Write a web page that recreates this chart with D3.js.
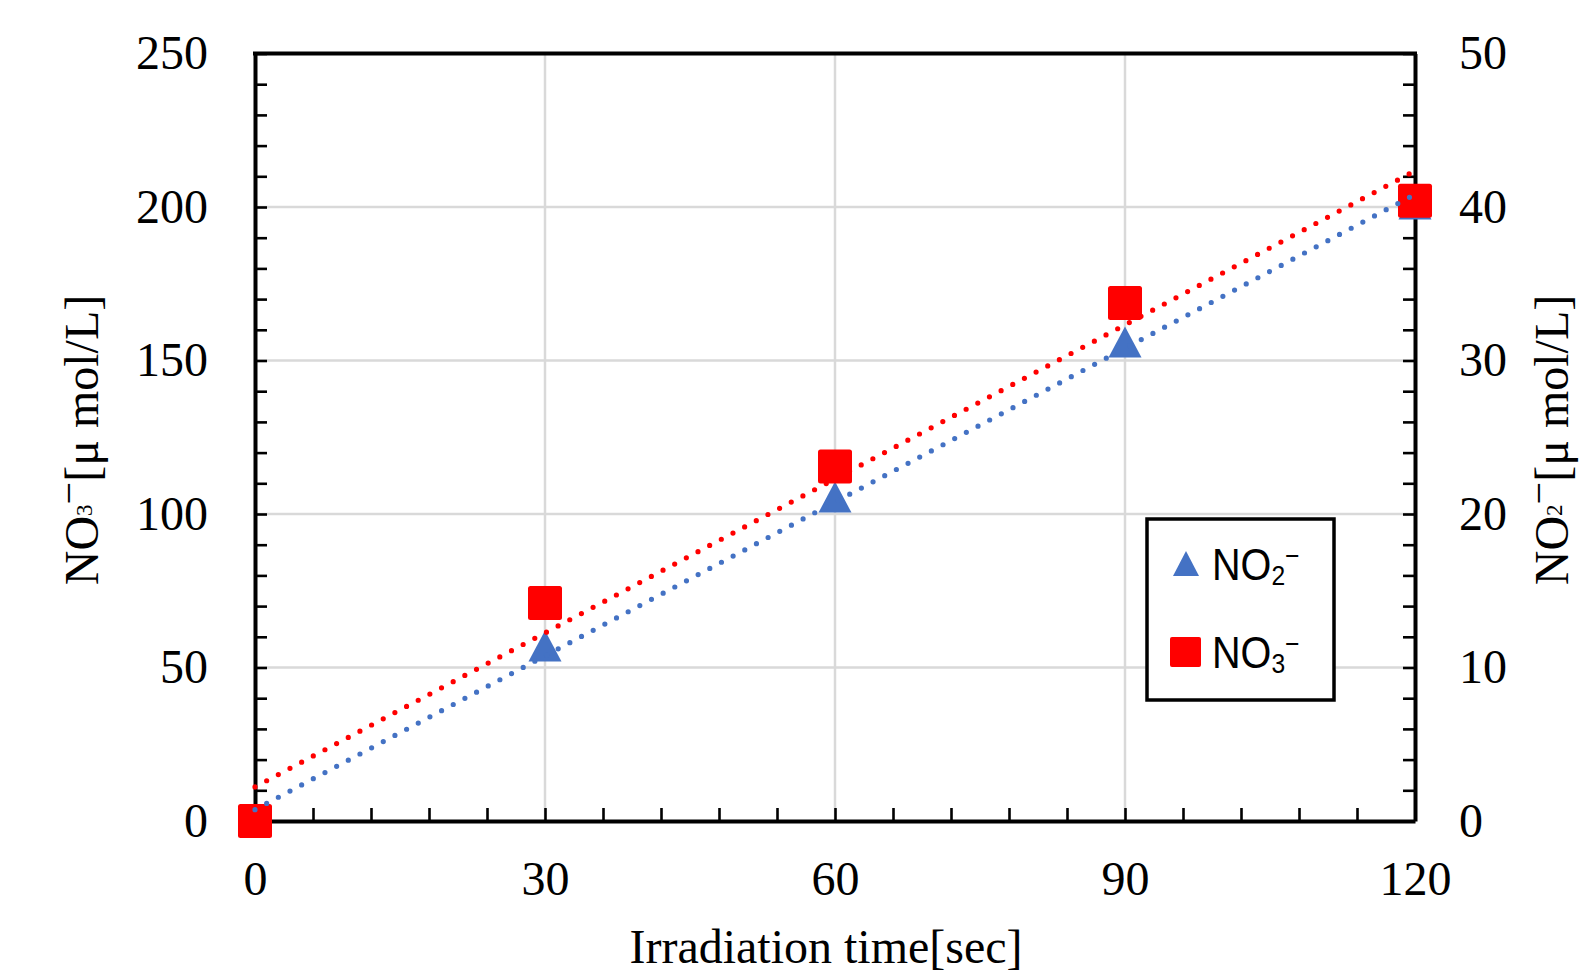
<!DOCTYPE html>
<html>
<head>
<meta charset="utf-8">
<script src="https://cdn.jsdelivr.net/npm/d3@7"></script>
<style>
  html, body { margin: 0; padding: 0; background: #fff; }
  svg { display: block; }
  .serif { font-family: "Liberation Serif", "Times New Roman", serif; }
  .sans { font-family: "Liberation Sans", Arial, sans-serif; }
</style>
</head>
<body>
<svg id="chart" width="1593" height="973"></svg>
<script>
// Irradiation time in seconds
const times = [0, 30, 60, 90, 120];
// Nitrate concentration, left axis (μmol/L)
const no3Values = [0, 71, 115.5, 168.7, 202];
// Nitrite concentration, right axis (μmol/L)
const no2Values = [0, 11.4, 21.1, 31.2, 40.2];

// Axis ticks
const xLabelTicks = [0, 30, 60, 90, 120];
const xMinorTicks = d3.range(0, 121, 6);
const yLeftLabelTicks = [0, 50, 100, 150, 200, 250];
const yLeftMinorTicks = d3.range(0, 251, 10);
const yRightLabelTicks = [0, 10, 20, 30, 40, 50];
const yRightMinorTicks = d3.range(0, 51, 2);

const colNO3 = "#ff0000";
const colNO2 = "#4472c4";

const svg = d3.select("#chart");
const plotLeft = 255, plotRight = 1415, plotTop = 53.5, plotBottom = 821;

const x = d3.scaleLinear().domain([0, 120]).range([plotLeft, plotRight]);
const yL = d3.scaleLinear().domain([0, 250]).range([plotBottom, plotTop]);
const yR = d3.scaleLinear().domain([0, 50]).range([plotBottom, plotTop]);

// Gridlines
const grid = svg.append("g").attr("stroke", "#d9d9d9").attr("stroke-width", 2.5);
grid.selectAll("line.v").data(xLabelTicks.filter(d => d > 0 && d < 120)).join("line")
  .attr("class", "v")
  .attr("x1", d => x(d)).attr("x2", d => x(d)).attr("y1", plotTop).attr("y2", plotBottom);
grid.selectAll("line.h").data(yLeftLabelTicks.filter(d => d > 0 && d < 250)).join("line")
  .attr("class", "h")
  .attr("x1", plotLeft).attr("x2", plotRight).attr("y1", d => yL(d)).attr("y2", d => yL(d));

// Axes with inward ticks
function styleAxis(g) {
  g.select(".domain").attr("stroke", "#000").attr("stroke-width", 4);
  g.selectAll(".tick line").attr("stroke", "#000").attr("stroke-width", 2.6);
  g.selectAll(".tick text").attr("fill", "#000")
    .attr("class", "serif").style("font-size", "48px");
}

svg.append("g").attr("transform", `translate(0,${plotBottom})`)
  .call(d3.axisBottom(x).tickValues(xMinorTicks).tickSizeInner(-13).tickSizeOuter(0)
    .tickPadding(40).tickFormat(d => xLabelTicks.includes(d) ? d : ""))
  .call(styleAxis);

svg.append("g").attr("transform", `translate(${plotLeft},0)`)
  .call(d3.axisLeft(yL).tickValues(yLeftMinorTicks).tickSizeInner(-12).tickSizeOuter(0)
    .tickPadding(47).tickFormat(d => yLeftLabelTicks.includes(d) ? d : ""))
  .call(styleAxis);

svg.append("g").attr("transform", `translate(${plotRight},0)`)
  .call(d3.axisRight(yR).tickValues(yRightMinorTicks).tickSizeInner(-12).tickSizeOuter(0)
    .tickPadding(44).tickFormat(d => yRightLabelTicks.includes(d) ? d : ""))
  .call(styleAxis);

// Top frame line
svg.append("line").attr("x1", plotLeft - 2).attr("x2", plotRight + 2)
  .attr("y1", plotTop).attr("y2", plotTop)
  .attr("stroke", "#000").attr("stroke-width", 4);

// Markers
const triW = 33, triH = 31, sq = 34;
svg.append("g").selectAll("path").data(times.map((t, i) => [t, no2Values[i]])).join("path")
  .attr("transform", d => `translate(${x(d[0])},${yR(d[1])})`)
  .attr("d", `M0,${-triH / 2}L${triW / 2},${triH / 2}L${-triW / 2},${triH / 2}Z`)
  .attr("fill", colNO2);
svg.append("g").selectAll("rect").data(times.map((t, i) => [t, no3Values[i]])).join("rect")
  .attr("x", d => x(d[0]) - sq / 2).attr("y", d => yL(d[1]) - sq / 2)
  .attr("width", sq).attr("height", sq).attr("rx", 2.5)
  .attr("fill", colNO3);

// Linear trend lines (least squares)
function fit(xs, ys) {
  const mx = d3.mean(xs), my = d3.mean(ys);
  const b = d3.sum(xs, (v, i) => (v - mx) * (ys[i] - my)) / d3.sum(xs, v => (v - mx) ** 2);
  return { a: my - b * mx, b };
}
function trend(ys, yScale, color) {
  const f = fit(times, ys);
  const span = d3.extent(times);
  svg.append("path")
    .datum(span.map(t => [t, f.a + f.b * t]))
    .attr("d", d3.line().x(d => x(d[0])).y(d => yScale(d[1])))
    .attr("fill", "none").attr("stroke", color).attr("stroke-width", 5.2)
    .attr("stroke-linecap", "round").attr("stroke-dasharray", "0 13.2");
}
trend(no3Values, yL, colNO3);
trend(no2Values, yR, colNO2);

// Axis titles
svg.append("text").attr("class", "serif").attr("x", 826).attr("y", 963)
  .attr("text-anchor", "middle").style("font-size", "48px").attr("fill", "#000")
  .text("Irradiation time[sec]");

function ionTitle(tx, ty, digit) {
  const t = svg.append("text").attr("class", "serif")
    .attr("transform", `translate(${tx},${ty}) rotate(-90)`)
    .attr("text-anchor", "middle").style("font-size", "48px").attr("fill", "#000");
  t.append("tspan").text("NO");
  t.append("tspan").style("font-size", "23px").attr("dy", -6).text(digit);
  t.append("tspan").style("font-size", "40px").attr("dy", -10).text("\u2212");
  t.append("tspan").attr("dy", 16).text("[μ mol/L]");
}
ionTitle(98, 440, "3");
ionTitle(1568, 440, "2");

// Legend
const lg = svg.append("g");
lg.append("rect").attr("x", 1147).attr("y", 519).attr("width", 187).attr("height", 181)
  .attr("fill", "#fff").attr("stroke", "#000").attr("stroke-width", 3.5);
lg.append("path").attr("transform", "translate(1186,563.5)")
  .attr("d", "M0,-12.5L13,12.5L-13,12.5Z").attr("fill", colNO2);
lg.append("rect").attr("x", 1170).attr("y", 637).attr("width", 31).attr("height", 30)
  .attr("rx", 2).attr("fill", colNO3);

function legendLabel(yBase, digit) {
  const t = lg.append("text").attr("class", "sans")
    .attr("transform", `translate(1212,${yBase}) scale(0.88,1)`)
    .style("font-size", "45px").attr("fill", "#000");
  t.append("tspan").text("NO");
  t.append("tspan").style("font-size", "28px").attr("dy", 5).text(digit);
  t.append("tspan").style("font-size", "28px").attr("dy", -20).text("\u2212");
}
legendLabel(580, "2");
legendLabel(668, "3");
</script>
</body>
</html>
